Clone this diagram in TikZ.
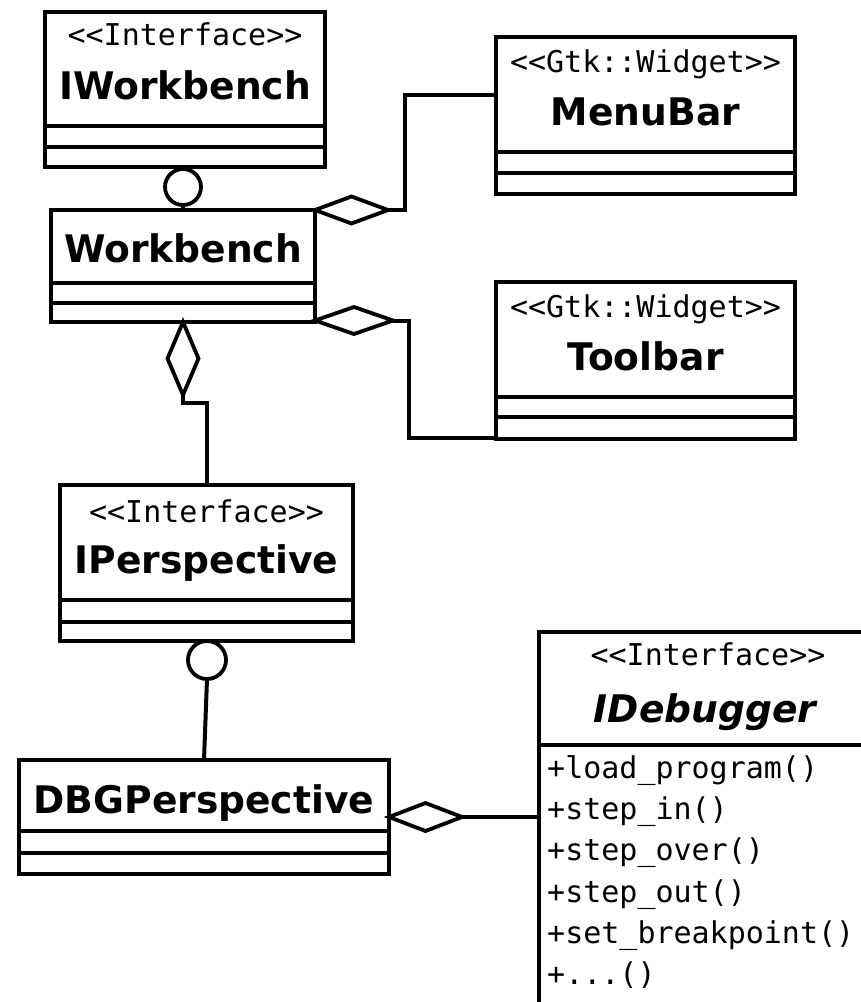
\documentclass[tikz,border=0pt]{standalone}
\usepackage{fontspec}
\usetikzlibrary{shapes.geometric}
\newfontfamily\namefont[FakeStretch=0.99]{DejaVu Sans}
\newfontfamily\stereofont{DejaVu Sans Mono}
\newfontfamily\opfont{DejaVu Sans Mono}

\begin{document}
\begin{tikzpicture}[x=1pt,y=-1pt,
  classbox/.style={draw, rectangle, line width=4.6pt, inner sep=0pt, outer sep=0pt},
  sep/.style={line width=4.2pt},
  link/.style={line width=4pt},
  aggr/.style={draw, diamond, line width=3.8pt, inner sep=0pt, outer sep=0pt, fill=white},
  iface/.style={draw, circle, line width=3.8pt, inner sep=0pt, outer sep=0pt, fill=white},
  stereo/.style={anchor=base, inner sep=0pt, font=\stereofont\fontsize{30}{30}\selectfont},
  cname/.style={anchor=base, inner sep=0pt, font=\namefont\bfseries\fontsize{38}{38}\selectfont},
  op/.style={anchor=base west, inner sep=0pt, font=\opfont\fontsize{30}{30}\selectfont},
]
\useasboundingbox (0,0) rectangle (861,1002);
\clip (0,0) rectangle (861,1002);

% IWorkbench
\node[classbox, minimum width=280pt, minimum height=155pt] (iwb) at (185,89.5) {};
\draw[sep] (iwb.west |- 0,126) -- (iwb.east |- 0,126);
\draw[sep] (iwb.west |- 0,147) -- (iwb.east |- 0,147);
\node[stereo] (iwbst) at (185,45) {<<Interface>>};
\node[cname] (iwbname) at (185,99) {IWorkbench};

% Workbench
\node[classbox, minimum width=264pt, minimum height=112pt] (wb) at (183,266) {};
\draw[sep] (wb.west |- 0,283) -- (wb.east |- 0,283);
\draw[sep] (wb.west |- 0,303) -- (wb.east |- 0,303);
\node[cname] (wbname) at (183,262) {Workbench};

% MenuBar
\node[classbox, minimum width=299pt, minimum height=157pt] (menu) at (645.5,115.5) {};
\draw[sep] (menu.west |- 0,152) -- (menu.east |- 0,152);
\draw[sep] (menu.west |- 0,173) -- (menu.east |- 0,173);
\node[stereo] (menust) at (645.5,72) {<<Gtk::Widget>>};
\node[cname] (menuname) at (645.5,125) {MenuBar};

% Toolbar
\node[classbox, minimum width=299pt, minimum height=157pt] (tool) at (645.5,360.5) {};
\draw[sep] (tool.west |- 0,397) -- (tool.east |- 0,397);
\draw[sep] (tool.west |- 0,417) -- (tool.east |- 0,417);
\node[stereo] (toolst) at (645.5,317) {<<Gtk::Widget>>};
\node[cname] (toolname) at (645.5,370) {Toolbar};

% IPerspective
\node[classbox, minimum width=293pt, minimum height=156pt] (iper) at (206.5,563) {};
\draw[sep] (iper.west |- 0,600) -- (iper.east |- 0,600);
\draw[sep] (iper.west |- 0,622) -- (iper.east |- 0,622);
\node[stereo] (iperst) at (206.5,522) {<<Interface>>};
\node[cname] (ipername) at (206.5,573) {IPerspective};

% DBGPerspective
\node[classbox, minimum width=370pt, minimum height=114pt] (dbg) at (204,817) {};
\draw[sep] (dbg.west |- 0,831) -- (dbg.east |- 0,831);
\draw[sep] (dbg.west |- 0,853) -- (dbg.east |- 0,853);
\node[cname] (dbgname) at (204,813) {DBGPerspective};

% IDebugger
\node[classbox, minimum width=336pt, minimum height=398pt] (idbg) at (707,831) {};
\draw[sep] (idbg.west |- 0,745) -- (idbg.east |- 0,745);
\node[stereo] (idbgst) at (708,665) {<<Interface>>};
\node[cname, font=\namefont\bfseries\itshape\fontsize{38}{38}\selectfont] (idbgname) at (705,722) {IDebugger};
\node[op] (op1) at (547,778.5) {+load\_program()};
\node[op] (op2) at (547,819.7) {+step\_in()};
\node[op] (op3) at (547,860.9) {+step\_over()};
\node[op] (op4) at (547,902.1) {+step\_out()};
\node[op] (op5) at (547,943.3) {+set\_breakpoint()};
\node[op] (op6) at (547,984.5) {+...()};

% interface lollipops
\node[iface, minimum size=36pt] (c1) at (183,187) {};
\draw[link] (c1.south) -- (wb.north -| c1);
\node[iface, minimum size=38pt] (c2) at (207,660) {};
\draw[link] (c2.south) -- (dbg.north);

% aggregations
\node[aggr, minimum width=73pt, minimum height=27pt, anchor=west] (d1) at (wb.north east) {};
\coordinate (k1) at (405,95);
\draw[link] (d1.east) -| (k1) -- (menu.west |- k1);

\node[aggr, minimum width=78pt, minimum height=27pt, anchor=west] (d2) at (wb.east |- 0,320.5) {};
\coordinate (k2) at (409,438);
\draw[link] (d2.east) -| (k2) -- (tool.west |- k2);

\node[aggr, minimum width=31pt, minimum height=73pt, anchor=north] (d3) at (wb.south) {};
\coordinate (k3) at (207,403);
\draw[link] (d3.south) |- (k3) -- (k3 |- iper.north);

\node[aggr, minimum width=73pt, minimum height=28pt, anchor=west] (d4) at (dbg.east |- 0,817) {};
\draw[link] (d4.east) -- (idbg.west |- d4.east);
\end{tikzpicture}
\end{document}
